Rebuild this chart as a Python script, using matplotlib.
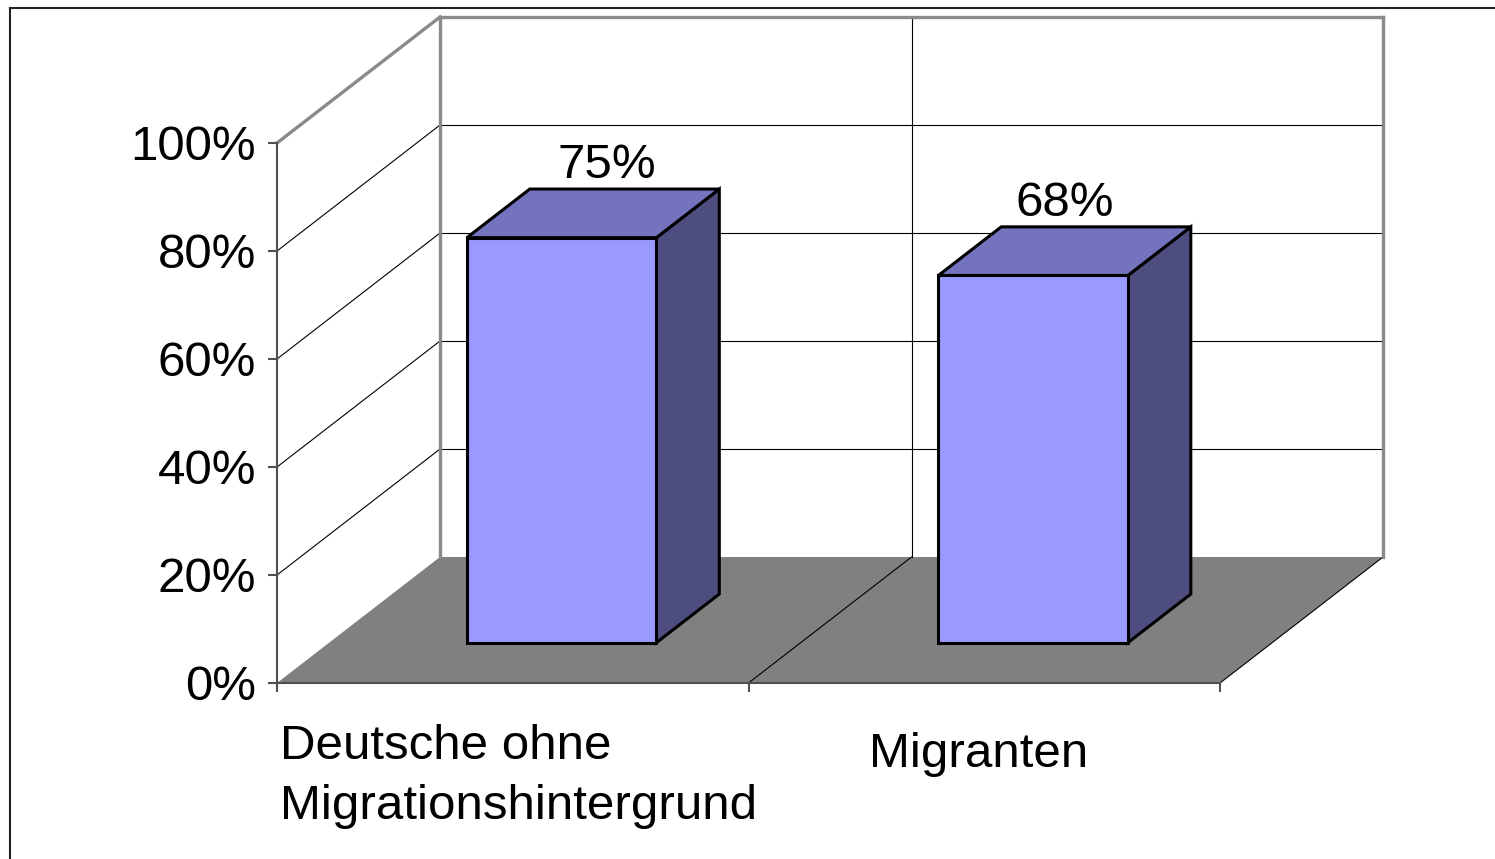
import matplotlib
matplotlib.use('Agg')
import matplotlib.pyplot as plt
from matplotlib.patches import Polygon
from matplotlib.lines import Line2D
from matplotlib.ticker import FuncFormatter

# ---------------- data ----------------
categories = ["Deutsche ohne\nMigrationshintergrund", "Migranten"]
values = [75, 68]
value_labels = ["75%", "68%"]
y_ticks = [0, 20, 40, 60, 80, 100]

# ---------------- layout / style ----------------
W, H, DPI = 1495, 859, 100
plt.rcParams['font.family'] = ['Liberation Sans', 'DejaVu Sans']
FS = 35.5

FRONT_C = '#9999FF'
TOP_C = '#7373BE'
SIDE_C = '#4D4D80'
FLOOR_C = '#808080'
WALL_EDGE = '#8A8A8A'
AXIS_C = '#505050'

fig = plt.figure(figsize=(W / DPI, H / DPI), dpi=DPI)
fig.patch.set_facecolor('white')

# front plane of the 3-D box in pixels
left_px, right_px = 277, 1220
top_px, bottom_px = 143, 683
ax = fig.add_axes([left_px / W, 1 - bottom_px / H,
                   (right_px - left_px) / W, (bottom_px - top_px) / H])
n = len(categories)
ymax = y_ticks[-1]
ax.set_xlim(0, n)
ax.set_ylim(0, ymax)
ax.set_facecolor('none')

# oblique depth offset (data units per full depth)
DEPTH_X = 163 / ((right_px - left_px) / n)
DEPTH_Y = 126 / ((bottom_px - top_px) / ymax)


def proj(x, y, d):
    return (x + d * DEPTH_X, y + d * DEPTH_Y)


def poly(pts, **kw):
    ax.add_patch(Polygon([proj(*q) for q in pts], closed=True, clip_on=False, **kw))


def seg(p0, p1, **kw):
    a, b = proj(*p0), proj(*p1)
    ax.add_line(Line2D([a[0], b[0]], [a[1], b[1]], clip_on=False, **kw))


# walls
poly([(0, 0, 1), (n, 0, 1), (n, ymax, 1), (0, ymax, 1)], facecolor='white', edgecolor='none', zorder=0.5)
poly([(0, 0, 0), (0, 0, 1), (0, ymax, 1), (0, ymax, 0)], facecolor='white', edgecolor='none', zorder=0.5)
# floor
poly([(0, 0, 0), (n, 0, 0), (n, 0, 1), (0, 0, 1)], facecolor=FLOOR_C, edgecolor='none', zorder=0.8)

# gridlines
for v in y_ticks[1:-1]:
    seg((0, v, 1), (n, v, 1), color='black', lw=0.8, zorder=1)
    seg((0, v, 0), (0, v, 1), color='black', lw=0.8, zorder=1)
for i in range(1, n):
    seg((i, 0, 1), (i, ymax, 1), color='black', lw=0.8, zorder=1)
for i in range(1, n + 1):
    seg((i, 0, 0), (i, 0, 1), color='black', lw=0.8, zorder=1)

# wall outlines
seg((0, 0, 1), (0, ymax, 1), color=WALL_EDGE, lw=2.4, zorder=1.2)
seg((0, ymax, 1), (n, ymax, 1), color=WALL_EDGE, lw=2.4, zorder=1.2)
seg((n, ymax, 1), (n, 0, 1), color=WALL_EDGE, lw=2.4, zorder=1.2)
seg((0, ymax, 0), (0, ymax, 1), color=WALL_EDGE, lw=2.4, zorder=1.2)

# bars
BAR_C = 0.493
BAR_W = 0.402
D0, D1 = 0.32, 0.706
value_dx = [10, 0]   # horizontal nudge of value labels, points
for i, (v, lab, vdx) in enumerate(zip(values, value_labels, value_dx)):
    x0 = i + BAR_C - BAR_W / 2
    x1 = i + BAR_C + BAR_W / 2
    kw = dict(edgecolor='black', lw=2.2, joinstyle='miter', zorder=3)
    poly([(x1, 0, D0), (x1, 0, D1), (x1, v, D1), (x1, v, D0)], facecolor=SIDE_C, **kw)
    poly([(x0, v, D0), (x1, v, D0), (x1, v, D1), (x0, v, D1)], facecolor=TOP_C, **kw)
    poly([(x0, 0, D0), (x1, 0, D0), (x1, v, D0), (x0, v, D0)], facecolor=FRONT_C, **kw)
    lx = proj(i + BAR_C, v, (D0 + D1) / 2)[0]
    ly = proj(i + BAR_C, v, D1)[1]
    ax.annotate(lab, xy=(lx, ly), xytext=(vdx, 8), textcoords='offset points',
                ha='center', va='baseline', fontsize=FS, color='black',
                annotation_clip=False, zorder=5)

# axes styling
for s in ['top', 'right']:
    ax.spines[s].set_visible(False)
for s in ['left', 'bottom']:
    ax.spines[s].set_color(AXIS_C)
    ax.spines[s].set_linewidth(1.5)
    ax.spines[s].set_zorder(2)
ax.set_yticks(y_ticks)
ax.yaxis.set_major_formatter(FuncFormatter(lambda v, p: f"{int(v)}%"))
ax.set_xticks(range(n + 1))
ax.set_xticklabels([])
ax.tick_params(axis='y', direction='out', length=6.5, width=1.5, color=AXIS_C,
               labelsize=FS, pad=8.5)
ax.tick_params(axis='x', direction='out', length=6.5, width=1.5, color=AXIS_C)

# category labels (last-line baseline drop below the floor edge, in points)
label_drop = [98, 60.5]
label_dx = [4, -4]
for i, (cat, dr, dx) in enumerate(zip(categories, label_drop, label_dx)):
    ax.annotate(cat, xy=(i + 0.5, 0), xytext=(dx, -dr), textcoords='offset points',
                ha='center', va='baseline', multialignment='left', linespacing=1.42,
                fontsize=FS, color='black', annotation_clip=False)

# figure frame (top and left edges)
bx, by = 9.5 / W, 1 - 7.5 / H
fig.add_artist(Line2D([bx, 1], [by, by], transform=fig.transFigure, color='#222222', lw=1.5))
fig.add_artist(Line2D([bx, bx], [by, 0], transform=fig.transFigure, color='#222222', lw=1.5))

fig.savefig('out.png', dpi=DPI, facecolor='white')
